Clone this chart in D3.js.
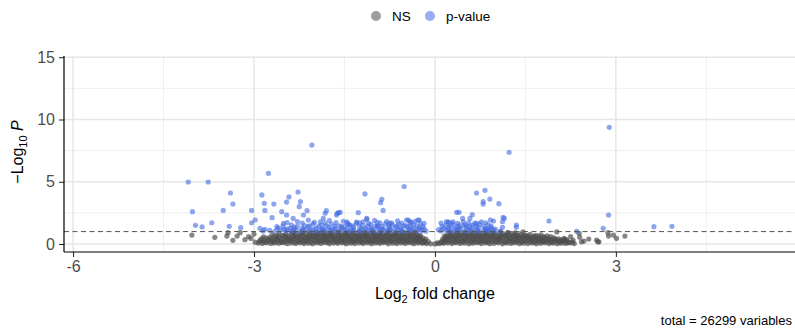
<!DOCTYPE html>
<html>
<head>
<meta charset="utf-8">
<script src="https://cdn.jsdelivr.net/npm/d3@7"></script>
<style>
  html, body { margin: 0; padding: 0; background: #fff; }
  svg { display: block; font-family: "Liberation Sans", Arial, Helvetica, sans-serif; }
</style>
</head>
<body>
<svg id="chart" width="795" height="332"></svg>
<script>
// Legend groups
const categories = ["NS", "p-value"];
const categoryColors = ["#4d4d4d", "#4169e1"];

// Axis ticks
const xTicks = [-6, -3, 0, 3];
const xMinorTicks = [-4.5, -1.5, 1.5, 4.5];
const yTicks = [0, 5, 10, 15];
const yMinorTicks = [2.5, 7.5, 12.5];

// Significance threshold (-log10 p) and total count
const pCutoffLog = 1;
const totalVariables = 26299;

// Not significant: [log2 fold change, -log10 p]
const nsPoints = [
  [-2.93,0.08],[-2.86,0.05],[-2.79,0.1],[-2.72,0.04],[-2.66,0.09],[-2.59,0.06],[-2.52,0.11],[-2.45,0.03],[-2.38,0.08],[-2.31,0.05],
  [-2.24,0.1],[-2.17,0.04],[-2.1,0.07],[-2.03,0.02],[-1.96,0.09],[-1.89,0.05],[-1.82,0.11],[-1.75,0.03],[-1.68,0.08],[-1.61,0.06],
  [-1.54,0.1],[-1.47,0.02],[-1.4,0.07],[-1.33,0.04],[-1.26,0.09],[-1.19,0.05],[-1.12,0.1],[-1.05,0.03],[-0.98,0.08],[-0.91,0.06],
  [-0.84,0.11],[-0.77,0.02],[-0.7,0.07],[-0.63,0.04],[-0.56,0.09],[-0.49,0.05],[-0.42,0.1],[-0.35,0.03],[-0.28,0.08],[-0.21,0.06],
  [-0.14,0.04],[-0.07,0.02],[0,0.01],[0.07,0.03],[0.14,0.06],[0.21,0.09],[0.28,0.04],[0.35,0.1],[0.42,0.05],[0.49,0.08],
  [0.56,0.02],[0.63,0.07],[0.7,0.11],[0.77,0.04],[0.84,0.09],[0.91,0.03],[0.98,0.06],[1.05,0.1],[1.12,0.02],[1.19,0.08],
  [1.26,0.05],[1.33,0.11],[1.4,0.03],[1.47,0.07],[1.54,0.04],[1.61,0.09],[1.68,0.02],[1.75,0.06],[1.82,0.1],[1.89,0.04],
  [1.96,0.08],[2.03,0.03],[2.1,0.07],[2.17,0.05],[2.24,0.09],[2.31,0.04],
  [-2.9,0.19],[-2.82,0.16],[-2.75,0.21],[-2.68,0.17],[-2.61,0.2],[-2.54,0.15],[-2.47,0.19],[-2.4,0.22],[-2.33,0.16],[-2.26,0.2],
  [-2.19,0.17],[-2.12,0.21],[-2.05,0.15],[-1.98,0.19],[-1.91,0.18],[-1.84,0.22],[-1.77,0.16],[-1.7,0.2],[-1.63,0.17],[-1.56,0.21],
  [-1.49,0.15],[-1.42,0.19],[-1.35,0.18],[-1.28,0.22],[-1.21,0.16],[-1.14,0.2],[-1.07,0.17],[-1.0,0.21],[-0.93,0.15],[-0.86,0.19],
  [-0.79,0.18],[-0.72,0.22],[-0.65,0.16],[-0.58,0.2],[-0.51,0.17],[-0.44,0.21],[-0.37,0.15],[-0.3,0.19],[-0.23,0.16],[-0.17,0.13],
  [0.04,0.1],[0.11,0.13],[0.18,0.17],[0.25,0.21],[0.32,0.16],[0.39,0.2],[0.46,0.18],[0.53,0.22],[0.6,0.15],[0.67,0.19],
  [0.74,0.17],[0.81,0.21],[0.88,0.16],[0.95,0.2],[1.02,0.18],[1.09,0.22],[1.16,0.15],[1.23,0.19],[1.3,0.17],[1.37,0.21],
  [1.44,0.16],[1.51,0.2],[1.58,0.18],[1.65,0.15],[1.72,0.19],[1.79,0.17],[1.86,0.2],[1.93,0.15],[2.0,0.18],[2.07,0.14],
  [2.14,0.17],[2.21,0.13],[2.28,0.15],
  [-2.9,0.31],[-2.83,0.27],[-2.76,0.36],[-2.69,0.29],[-2.62,0.38],[-2.55,0.26],[-2.48,0.34],[-2.41,0.3],[-2.34,0.39],[-2.27,0.25],
  [-2.2,0.33],[-2.13,0.28],[-2.06,0.37],[-1.99,0.3],[-1.92,0.26],[-1.85,0.35],[-1.78,0.29],[-1.71,0.38],[-1.64,0.27],[-1.57,0.33],
  [-1.5,0.3],[-1.43,0.36],[-1.36,0.25],[-1.29,0.34],[-1.22,0.29],[-1.15,0.38],[-1.08,0.27],[-1.01,0.32],[-0.94,0.36],[-0.87,0.28],
  [-0.8,0.34],[-0.73,0.26],[-0.66,0.37],[-0.59,0.3],[-0.52,0.33],[-0.45,0.27],[-0.38,0.36],[-0.31,0.29],[-0.24,0.32],[-0.17,0.25],
  [-0.11,0.2],[0.1,0.18],[0.17,0.27],[0.24,0.35],[0.31,0.3],[0.38,0.38],[0.45,0.26],[0.52,0.33],[0.59,0.29],[0.66,0.37],
  [0.73,0.28],[0.8,0.34],[0.87,0.26],[0.94,0.36],[1.01,0.3],[1.08,0.33],[1.15,0.27],[1.22,0.38],[1.29,0.29],[1.36,0.35],
  [1.43,0.26],[1.5,0.32],[1.57,0.37],[1.64,0.28],[1.71,0.33],[1.78,0.25],[1.85,0.31],[1.92,0.27],[1.99,0.34],[2.06,0.26],
  [2.13,0.3],[2.2,0.24],
  [-2.87,0.44],[-2.79,0.47],[-2.71,0.42],[-2.63,0.46],[-2.55,0.43],[-2.47,0.48],[-2.4,0.41],[-2.32,0.45],[-2.25,0.47],[-2.18,0.42],
  [-2.11,0.46],[-2.04,0.44],[-1.97,0.48],[-1.9,0.41],[-1.83,0.45],[-1.76,0.43],[-1.69,0.47],[-1.62,0.42],[-1.55,0.46],[-1.48,0.44],
  [-1.41,0.48],[-1.34,0.41],[-1.27,0.45],[-1.2,0.43],[-1.13,0.47],[-1.06,0.42],[-0.99,0.46],[-0.92,0.44],[-0.85,0.48],[-0.78,0.41],
  [-0.71,0.45],[-0.64,0.43],[-0.57,0.47],[-0.5,0.42],[-0.43,0.46],[-0.36,0.44],[-0.29,0.45],[-0.22,0.38],[0.15,0.32],[0.21,0.43],
  [0.28,0.47],[0.35,0.42],[0.42,0.46],[0.49,0.44],[0.56,0.48],[0.63,0.41],[0.7,0.45],[0.77,0.43],[0.84,0.47],[0.91,0.42],
  [0.98,0.46],[1.05,0.44],[1.12,0.48],[1.19,0.41],[1.26,0.45],[1.33,0.43],[1.4,0.47],[1.47,0.42],[1.54,0.45],[1.61,0.4],
  [1.68,0.44],[1.76,0.38],[1.83,0.42],[1.92,0.36],[2.0,0.39],[2.09,0.33],[2.18,0.35],
  [-2.84,0.58],[-2.74,0.52],[-2.66,0.61],[-2.58,0.55],[-2.5,0.63],[-2.43,0.5],[-2.36,0.59],[-2.29,0.54],[-2.22,0.62],[-2.15,0.51],
  [-2.08,0.57],[-2.01,0.64],[-1.94,0.53],[-1.87,0.6],[-1.8,0.55],[-1.73,0.63],[-1.66,0.51],[-1.59,0.58],[-1.52,0.54],[-1.45,0.62],
  [-1.38,0.5],[-1.31,0.59],[-1.24,0.55],[-1.17,0.63],[-1.1,0.52],[-1.03,0.57],[-0.96,0.61],[-0.89,0.53],[-0.82,0.6],[-0.75,0.54],
  [-0.68,0.62],[-0.61,0.51],[-0.54,0.58],[-0.47,0.55],[-0.4,0.63],[-0.33,0.52],[-0.26,0.57],[-0.2,0.48],[-0.15,0.4],[0.13,0.42],
  [0.19,0.53],[0.26,0.6],[0.33,0.55],[0.4,0.62],[0.47,0.51],[0.54,0.58],[0.61,0.54],[0.68,0.63],[0.75,0.52],[0.82,0.59],
  [0.89,0.55],[0.96,0.61],[1.03,0.5],[1.1,0.57],[1.17,0.63],[1.24,0.53],[1.31,0.6],[1.38,0.55],[1.45,0.52],[1.52,0.59],
  [1.59,0.5],[1.66,0.56],[1.73,0.48],[1.8,0.53],[1.88,0.45],[1.97,0.5],[2.05,0.42],[2.14,0.46],
  [-2.62,0.67],[-2.52,0.7],[-2.43,0.66],[-2.34,0.71],[-2.26,0.68],[-2.18,0.72],[-2.1,0.66],[-2.02,0.7],[-1.95,0.67],[-1.88,0.72],
  [-1.81,0.68],[-1.74,0.71],[-1.67,0.66],[-1.6,0.7],[-1.53,0.68],[-1.46,0.72],[-1.39,0.67],[-1.32,0.7],[-1.25,0.66],[-1.18,0.71],
  [-1.11,0.68],[-1.04,0.72],[-0.97,0.67],[-0.9,0.7],[-0.83,0.66],[-0.76,0.71],[-0.69,0.68],[-0.62,0.72],[-0.55,0.67],[-0.48,0.7],
  [-0.41,0.66],[-0.34,0.71],[-0.27,0.63],[0.19,0.6],[0.26,0.7],[0.33,0.67],[0.4,0.72],[0.47,0.68],[0.54,0.71],[0.61,0.66],
  [0.68,0.7],[0.75,0.67],[0.82,0.72],[0.89,0.68],[0.96,0.71],[1.03,0.66],[1.1,0.7],[1.17,0.67],[1.24,0.71],[1.31,0.66],
  [1.38,0.69],[1.46,0.64],[1.54,0.66],[1.63,0.61],[1.72,0.63],[1.81,0.58],[1.92,0.6],
  [-2.7,0.76],[-2.58,0.82],[-2.47,0.78],[-2.38,0.86],[-2.3,0.8],[-2.22,0.88],[-2.14,0.77],[-2.06,0.84],[-1.98,0.8],[-1.91,0.87],
  [-1.84,0.76],[-1.77,0.83],[-1.7,0.79],[-1.63,0.88],[-1.56,0.77],[-1.49,0.85],[-1.42,0.8],[-1.35,0.87],[-1.28,0.76],[-1.21,0.84],
  [-1.14,0.79],[-1.07,0.88],[-1.0,0.77],[-0.93,0.83],[-0.86,0.8],[-0.79,0.87],[-0.72,0.76],[-0.65,0.85],[-0.58,0.79],[-0.51,0.86],
  [-0.44,0.78],[-0.37,0.84],[-0.3,0.77],[-0.24,0.7],[0.16,0.66],[0.22,0.77],[0.29,0.84],[0.36,0.79],[0.43,0.87],[0.5,0.76],
  [0.57,0.83],[0.64,0.8],[0.71,0.88],[0.78,0.77],[0.85,0.84],[0.92,0.79],[0.99,0.86],[1.06,0.76],[1.13,0.83],[1.2,0.78],
  [1.27,0.85],[1.34,0.75],[1.42,0.8],[1.5,0.72],[1.58,0.77],[1.67,0.7],[1.76,0.74],[1.86,0.66],
  [-2.35,0.95],[-2.2,0.92],[-2.08,0.97],[-1.95,0.93],[-1.83,0.98],[-1.72,0.94],[-1.6,0.97],[-1.48,0.92],[-1.37,0.96],[-1.25,0.99],
  [-1.14,0.93],[-1.02,0.97],[-0.9,0.94],[-0.78,0.98],[-0.66,0.92],[-0.54,0.96],[-0.42,0.93],[-0.33,0.97],[0.25,0.94],[0.37,0.98],
  [0.49,0.93],[0.61,0.97],[0.73,0.92],[0.85,0.96],[0.97,0.94],[1.09,0.98],[1.21,0.93],[1.33,0.9],[1.46,0.97],[2.02,0.97],
  [-4.03,0.72],[-3.65,0.54],[-3.45,0.64],[-3.43,0.91],[-3.28,0.64],[-3.23,0.91],[-3.09,0.59],[-3.0,0.8],[-3.15,0.35],[-2.98,0.15],
  [-3.05,0.45],[-3.35,0.3],[2.15,0.38],[2.29,0.32],[2.39,0.86],[2.47,0.24],[2.68,0.32],[2.72,0.18],[2.87,0.91],[2.88,0.64],
  [2.96,0.72],[3.01,0.46],[3.15,0.64],[2.4,0.55],[2.25,0.6],[2.55,0.4],[2.43,0.18],[2.7,0.18]
];

// Significant by p-value: [log2 fold change, -log10 p]
const pvaluePoints = [
  [-2.85,1.05],[-2.74,1.1],[-2.65,1.03],[-2.56,1.12],[-2.47,1.06],[-2.38,1.02],[-2.3,1.09],[-2.22,1.04],[-2.14,1.13],[-2.06,1.07],
  [-1.98,1.02],[-1.9,1.1],[-1.82,1.05],[-1.74,1.14],[-1.66,1.03],[-1.58,1.08],[-1.5,1.12],[-1.42,1.04],[-1.34,1.09],[-1.26,1.02],
  [-1.18,1.11],[-1.1,1.06],[-1.02,1.13],[-0.94,1.03],[-0.86,1.08],[-0.78,1.12],[-0.7,1.05],[-0.62,1.1],[-0.54,1.02],[-0.46,1.07],
  [-0.38,1.13],[-0.3,1.04],[-0.22,1.09],[-0.15,1.03],[0.1,1.05],[0.18,1.11],[0.26,1.03],[0.34,1.08],[0.42,1.13],[0.5,1.04],
  [0.58,1.1],[0.66,1.06],[0.74,1.02],[0.82,1.12],[0.9,1.05],[0.98,1.09],[1.08,1.03],
  [-2.5,1.17],[-2.34,1.19],[-2.18,1.16],[-2.02,1.2],[-1.86,1.15],[-1.7,1.18],[-1.54,1.21],[-1.38,1.16],[-1.22,1.19],[-1.06,1.15],
  [-0.9,1.2],[-0.74,1.17],[-0.58,1.19],[-0.42,1.16],[-0.26,1.18],[0.06,1.15],[0.22,1.19],[0.38,1.16],[0.54,1.2],[0.7,1.17],
  [0.86,1.15],[1.0,1.2],
  [-2.6,1.28],[-2.45,1.22],[-2.33,1.35],[-2.2,1.25],[-2.1,1.38],[-1.97,1.27],[-1.86,1.21],[-1.76,1.33],[-1.65,1.26],[-1.55,1.39],
  [-1.45,1.23],[-1.35,1.31],[-1.25,1.37],[-1.15,1.24],[-1.05,1.3],[-0.95,1.36],[-0.85,1.22],[-0.75,1.29],[-0.65,1.34],[-0.55,1.25],
  [-0.45,1.38],[-0.35,1.27],[-0.26,1.32],[-0.18,1.22],[0.14,1.26],[0.23,1.34],[0.32,1.23],[0.41,1.3],[0.52,1.37],[0.62,1.25],
  [0.72,1.32],[0.83,1.22],[0.94,1.29],
  [-2.52,1.45],[-2.28,1.42],[-2.08,1.47],[-1.93,1.41],[-1.8,1.46],[-1.66,1.43],[-1.5,1.4],[-1.36,1.46],[-1.12,1.42],[-0.98,1.44],
  [-0.88,1.41],[-0.77,1.46],[-0.63,1.43],[-0.52,1.47],[-0.41,1.42],[-0.3,1.45],[-0.2,1.4],[0.12,1.42],[0.26,1.45],[0.36,1.41],
  [0.47,1.46],[0.57,1.43],[0.68,1.47],[0.8,1.42],[0.93,1.44],
  [-2.38,1.55],[-2.16,1.48],[-2.02,1.62],[-1.88,1.52],[-1.72,1.6],[-1.58,1.47],[-1.43,1.57],[-1.3,1.66],[-1.2,1.5],[-1.06,1.58],
  [-0.95,1.46],[-0.82,1.63],[-0.7,1.53],[-0.6,1.6],[-0.48,1.49],[-0.36,1.58],[-0.24,1.64],[0.18,1.52],[0.3,1.62],[0.4,1.48],
  [0.5,1.57],[0.62,1.5],[0.74,1.6],[0.88,1.55],
  [-2.45,1.72],[-2.2,1.68],[-2.0,1.74],[-1.82,1.69],[-1.64,1.72],[-1.45,1.67],[-1.25,1.7],[-1.1,1.66],[-0.96,1.72],[-0.72,1.7],
  [-0.55,1.68],[-0.4,1.72],[-0.18,1.66],[0.1,1.68],[0.24,1.7],[0.38,1.66],[0.56,1.72],[0.66,1.68],[0.84,1.7],
  [-2.28,1.8],[-2.1,1.92],[-1.9,1.78],[-1.75,1.88],[-1.52,1.83],[-1.3,1.76],[-1.0,1.9],[-0.8,1.8],[-0.62,1.86],[-0.33,1.82],
  [-4.09,4.98],[-3.76,4.98],[-2.76,5.68],[-3.39,4.1],[-3.35,3.21],[-2.87,3.94],[-2.27,4.18],[-2.42,3.78],[-2.46,3.37],[-2.67,3.21],
  [-2.83,3.27],[-2.82,2.7],[-3.04,2.7],[-3.51,2.7],[-4.02,2.6],[-2.23,3.4],[-2.25,3.0],[-2.54,2.6],[-2.7,2.12],[-3.7,1.71],
  [-3.97,1.5],[-3.86,1.37],[-3.41,1.42],[-3.22,1.31],[-3.04,1.71],[-2.98,1.93],[-2.46,2.33],[-2.51,1.66],[-2.62,1.39],[-2.35,2.06],
  [-2.18,2.33],[-2.4,1.26],[-2.9,1.26],[-2.82,1.18],
  [-2.04,7.95],[-0.51,4.62],[-1.16,4.02],[-0.88,3.59],[-0.9,3.32],[-0.86,2.7],[-1.27,2.52],[-1.6,2.52],[-1.63,2.33],[-1.8,2.68],
  [-1.85,2.06],[-2.12,2.68],[-1.13,2.06],[-1.46,1.79],[-1.41,1.53],[-0.26,1.93],[-0.44,1.93],[0.19,1.79],[-1.62,2.47],[-1.57,2.55],
  [-1.82,2.47],[-1.13,1.98],[-1.19,1.79],[-0.47,1.93],[-0.41,1.79],[-0.28,1.93],[-0.75,1.66],[-0.91,1.71],
  [0.69,4.1],[0.83,4.31],[0.91,3.61],[0.8,3.4],[0.8,3.21],[1.06,3.24],[0.36,2.55],[0.4,2.55],[0.62,2.36],[0.58,2.06],
  [0.46,2.06],[0.92,1.93],[0.97,1.85],[1.15,2.06],[1.12,1.79],[1.35,1.53],[1.35,1.34],[1.89,1.85],[0.77,1.79],[0.69,1.66],
  [0.22,1.79],[0.3,1.79],[0.47,1.79],[1.12,1.34],[0.86,1.26],[0.91,1.18],[1.13,2.14],
  [1.23,7.37],[2.89,9.37],[2.88,2.33],[2.79,1.26],[2.35,1.02],[3.63,1.39],[3.93,1.42]
];

const svg = d3.select("#chart");
const panel = { left: 64, right: 795, top: 56, bottom: 252 };

const x = d3.scaleLinear().domain([-6.15, 5.97]).range([panel.left, panel.right]);
const y = d3.scaleLinear().domain([-0.64, 15.1]).range([panel.bottom, panel.top]);

// Grid
const grid = svg.append("g");
grid.selectAll(".gxm").data(xMinorTicks).join("line")
  .attr("x1", d => x(d)).attr("x2", d => x(d)).attr("y1", panel.top).attr("y2", panel.bottom)
  .attr("stroke", "#ebebeb").attr("stroke-width", 0.8);
grid.selectAll(".gym").data(yMinorTicks).join("line")
  .attr("x1", panel.left).attr("x2", panel.right).attr("y1", d => y(d)).attr("y2", d => y(d))
  .attr("stroke", "#ebebeb").attr("stroke-width", 0.8);
grid.selectAll(".gx").data(xTicks).join("line")
  .attr("x1", d => x(d)).attr("x2", d => x(d)).attr("y1", panel.top).attr("y2", panel.bottom)
  .attr("stroke", "#e6e6e6").attr("stroke-width", 1.5);
grid.selectAll(".gy").data(yTicks).join("line")
  .attr("x1", panel.left).attr("x2", panel.right).attr("y1", d => y(d)).attr("y2", d => y(d))
  .attr("stroke", "#e6e6e6").attr("stroke-width", 1.5);

// Points
svg.append("defs").append("clipPath").attr("id", "clip")
  .append("rect").attr("x", panel.left).attr("y", panel.top)
  .attr("width", panel.right - panel.left).attr("height", panel.bottom - panel.top);
const pts = svg.append("g").attr("clip-path", "url(#clip)");
pts.selectAll(".ns").data(nsPoints).join("circle")
  .attr("cx", d => x(d[0])).attr("cy", d => y(d[1])).attr("r", 2.6)
  .attr("fill", categoryColors[0]).attr("fill-opacity", 0.68);
pts.selectAll(".pv").data(pvaluePoints).join("circle")
  .attr("cx", d => x(d[0])).attr("cy", d => y(d[1])).attr("r", 2.6)
  .attr("fill", categoryColors[1]).attr("fill-opacity", 0.6);

// Cutoff line
svg.append("line")
  .attr("x1", panel.left).attr("x2", panel.right)
  .attr("y1", y(pCutoffLog)).attr("y2", y(pCutoffLog))
  .attr("stroke", "#555").attr("stroke-width", 1).attr("stroke-dasharray", "5,3.5");

// Axes
const xAxis = svg.append("g").attr("transform", `translate(0,${panel.bottom})`)
  .call(d3.axisBottom(x).tickValues(xTicks).tickSize(5).tickPadding(4).tickFormat(d3.format("d")));
const yAxis = svg.append("g").attr("transform", `translate(${panel.left},0)`)
  .call(d3.axisLeft(y).tickValues(yTicks).tickSize(5).tickPadding(4).tickFormat(d3.format("d")));
[xAxis, yAxis].forEach(a => {
  a.select(".domain").remove();
  a.selectAll(".tick line").attr("stroke", "#222").attr("stroke-width", 1);
  a.selectAll(".tick text").attr("fill", "#4d4d4d").attr("font-size", 16)
    .attr("font-family", "'Liberation Sans', Arial, sans-serif");
});
xAxis.selectAll(".tick text").text(d => d < 0 ? "-" + Math.abs(d) : d);
svg.append("line").attr("x1", panel.left).attr("x2", panel.right)
  .attr("y1", panel.bottom).attr("y2", panel.bottom).attr("stroke", "#000").attr("stroke-width", 1.2);
svg.append("line").attr("x1", panel.left).attr("x2", panel.left)
  .attr("y1", panel.top).attr("y2", panel.bottom).attr("stroke", "#000").attr("stroke-width", 1.2);

// Axis titles
const xt = svg.append("text").attr("x", x(0)).attr("y", 299)
  .attr("text-anchor", "middle").attr("font-size", 16).attr("fill", "#000");
xt.append("tspan").text("Log");
xt.append("tspan").text("2").attr("font-size", 11).attr("dy", 4);
xt.append("tspan").text(" fold change").attr("dy", -4);

const yt = svg.append("text")
  .attr("transform", `translate(23,${(panel.top + panel.bottom) / 2 - 2}) rotate(-90)`)
  .attr("text-anchor", "middle").attr("font-size", 16).attr("fill", "#000");
yt.append("tspan").text("\u2212Log");
yt.append("tspan").text("10").attr("font-size", 11).attr("dy", 4);
yt.append("tspan").text(" ").attr("dy", -4);
yt.append("tspan").text("P").attr("font-style", "italic");

// Legend
const legend = svg.append("g");
const legendX = [376, 430];
categories.forEach((c, i) => {
  legend.append("circle").attr("cx", legendX[i]).attr("cy", 16).attr("r", 5)
    .attr("fill", categoryColors[i]).attr("fill-opacity", 0.55);
  legend.append("text").attr("x", legendX[i] + 16).attr("y", 21)
    .attr("font-size", 13.5).attr("fill", "#000").text(c);
});

// Caption
svg.append("text").attr("x", 792).attr("y", 325).attr("text-anchor", "end")
  .attr("font-size", 13).attr("fill", "#000")
  .text(`total = ${totalVariables} variables`);
</script>
</body>
</html>
